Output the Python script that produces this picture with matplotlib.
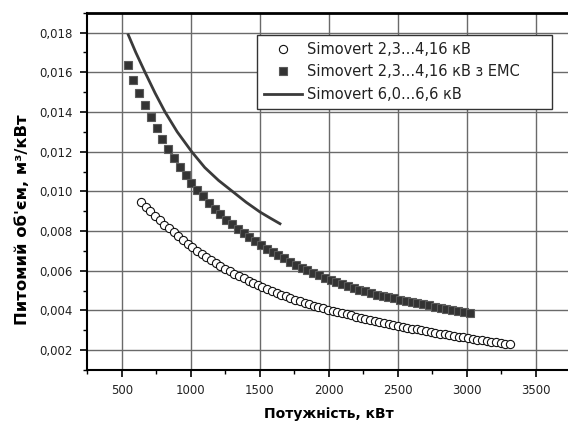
import matplotlib
matplotlib.use('agg')
import matplotlib.pyplot as plt
from matplotlib.ticker import MultipleLocator, FuncFormatter
from matplotlib.lines import Line2D

plt.rcParams['font.family'] = ['DejaVu Sans']

# Simovert 2,3...4,16 kV (open circles)
p_low = [638, 672, 706, 740, 773, 807, 841, 875, 909, 943,
         977, 1010, 1044, 1078, 1112, 1146, 1180, 1213, 1247, 1281,
         1315, 1349, 1383, 1417, 1450, 1484, 1518, 1552, 1586, 1620,
         1654, 1687, 1721, 1755, 1789, 1823, 1857, 1890, 1924, 1958,
         1992, 2026, 2060, 2094, 2127, 2161, 2195, 2229, 2263, 2297,
         2331, 2364, 2398, 2432, 2466, 2500, 2534, 2568, 2601, 2635,
         2669, 2703, 2737, 2771, 2804, 2838, 2872, 2906, 2940, 2974,
         3008, 3042, 3075, 3109, 3143, 3177, 3211, 3245, 3278, 3312]
v_low = [9.46, 9.22, 8.99, 8.76, 8.54, 8.33, 8.13, 7.93, 7.73, 7.54,
         7.36, 7.19, 7.02, 6.86, 6.70, 6.55, 6.40, 6.25, 6.11, 5.98,
         5.85, 5.73, 5.61, 5.49, 5.38, 5.28, 5.18, 5.08, 4.98, 4.89,
         4.80, 4.71, 4.63, 4.54, 4.46, 4.39, 4.31, 4.24, 4.17, 4.11,
         4.04, 3.98, 3.92, 3.86, 3.80, 3.75, 3.69, 3.64, 3.58, 3.53,
         3.48, 3.43, 3.38, 3.33, 3.28, 3.23, 3.18, 3.14, 3.09, 3.05,
         3.00, 2.96, 2.92, 2.87, 2.83, 2.79, 2.75, 2.71, 2.67, 2.64,
         2.60, 2.56, 2.53, 2.49, 2.46, 2.42, 2.39, 2.35, 2.32, 2.29]

# Simovert 2,3...4,16 kV with EMC (filled squares)
p_emc = [541, 583, 625, 667, 709, 751, 793, 835, 877, 919,
         961, 1003, 1045, 1087, 1129, 1171, 1213, 1255, 1297, 1339,
         1381, 1423, 1465, 1507, 1549, 1591, 1633, 1675, 1717, 1759,
         1801, 1843, 1885, 1927, 1969, 2011, 2053, 2095, 2137, 2179,
         2221, 2263, 2305, 2347, 2389, 2431, 2473, 2515, 2557, 2599,
         2641, 2683, 2725, 2767, 2809, 2851, 2893, 2935, 2977, 3019]
v_emc = [16.37, 15.62, 14.96, 14.33, 13.75, 13.18, 12.65, 12.14, 11.67, 11.22,
         10.81, 10.42, 10.08, 9.75, 9.41, 9.11, 8.84, 8.58, 8.34, 8.11,
         7.89, 7.68, 7.48, 7.29, 7.11, 6.94, 6.77, 6.62, 6.46, 6.31,
         6.16, 6.02, 5.89, 5.77, 5.65, 5.54, 5.43, 5.33, 5.23, 5.14,
         5.05, 4.96, 4.88, 4.80, 4.73, 4.67, 4.61, 4.55, 4.49, 4.43,
         4.37, 4.31, 4.25, 4.19, 4.13, 4.08, 4.03, 3.98, 3.93, 3.88]

# Simovert 6,0...6,6 kV (solid line)
p_high = [546, 600, 667, 740, 812, 900, 1005, 1100, 1200, 1300, 1400, 1500, 1575, 1645]
v_high = [17.88, 17.0, 16.0, 14.95, 14.0, 13.0, 12.0, 11.2, 10.55, 10.0, 9.45, 8.96, 8.65, 8.37]

labels = ['Simovert 2,3...4,16 кВ', 'Simovert 2,3...4,16 кВ з EMC', 'Simovert 6,0...6,6 кВ']

fig = plt.figure(figsize=(5.68, 4.22), dpi=100)
ax = fig.add_axes([0.154, 0.1232, 0.8504, 0.8467])

circ = dict(marker='o', ms=5.9, mfc='white', mec='#111111', mew=0.8)
sq = dict(marker='s', ms=5.3, mfc='#333333', mec='#5a5a5a', mew=0.8)
ln = dict(color='#3a3a3a', lw=2.0)

ax.plot(p_low, [v / 1000 for v in v_low], ls='none', zorder=3, **circ)
ax.plot(p_emc, [v / 1000 for v in v_emc], ls='none', zorder=3, **sq)
ax.plot(p_high, [v / 1000 for v in v_high], '-', zorder=3, **ln)

ax.set_xlim(250, 3750)
ax.set_ylim(0.001, 0.019)
ax.xaxis.set_major_locator(MultipleLocator(500))
ax.xaxis.set_minor_locator(MultipleLocator(250))
ax.yaxis.set_major_locator(MultipleLocator(0.002))
ax.yaxis.set_minor_locator(MultipleLocator(0.001))
ax.yaxis.set_major_formatter(FuncFormatter(lambda v, pos: '{:.3f}'.format(v).replace('.', ',')))
ax.xaxis.set_major_formatter(FuncFormatter(lambda v, pos: '{:.0f}'.format(v)))

ax.grid(True, which='major', color='#6a6a6a', lw=1.0)
ax.set_axisbelow(True)
ax.tick_params(which='major', direction='out', length=5, width=1.2, labelsize=8.5,
               colors='black', labelcolor='#222222')
ax.tick_params(which='minor', direction='out', length=3, width=1.0)
ax.tick_params(axis='x', which='major', pad=5)
ax.tick_params(axis='y', which='major', pad=5.5)
for s in ['left', 'bottom']:
    ax.spines[s].set_linewidth(1.5)
ax.spines['top'].set_linewidth(2.0)
ax.spines['right'].set_visible(False)

ax.set_xlabel('Потужність, кВт', fontsize=10, fontweight='bold', va='top')
ax.xaxis.set_label_coords(0.5, -0.1036)
ax.set_ylabel('Питомий об\'єм, м³/кВт', fontsize=11.8, fontweight='bold')
ax.yaxis.set_label_coords(-0.118, 0.42)

handles = [Line2D([], [], ls='none', **circ),
           Line2D([], [], ls='none', **sq),
           Line2D([], [], **ln)]
lgd = ax.legend(handles, labels, loc='upper left', bbox_to_anchor=(0.351, 0.733, 0.611, 0.205),
                mode='expand', fontsize=10.5, fancybox=False, edgecolor='#333333', framealpha=1,
                borderpad=0.5, labelspacing=0.5, handlelength=2.6, handletextpad=0.3,
                borderaxespad=0, labelcolor='#222222')
lgd.get_frame().set_linewidth(1.0)

fig.savefig('out.png', dpi=100)
